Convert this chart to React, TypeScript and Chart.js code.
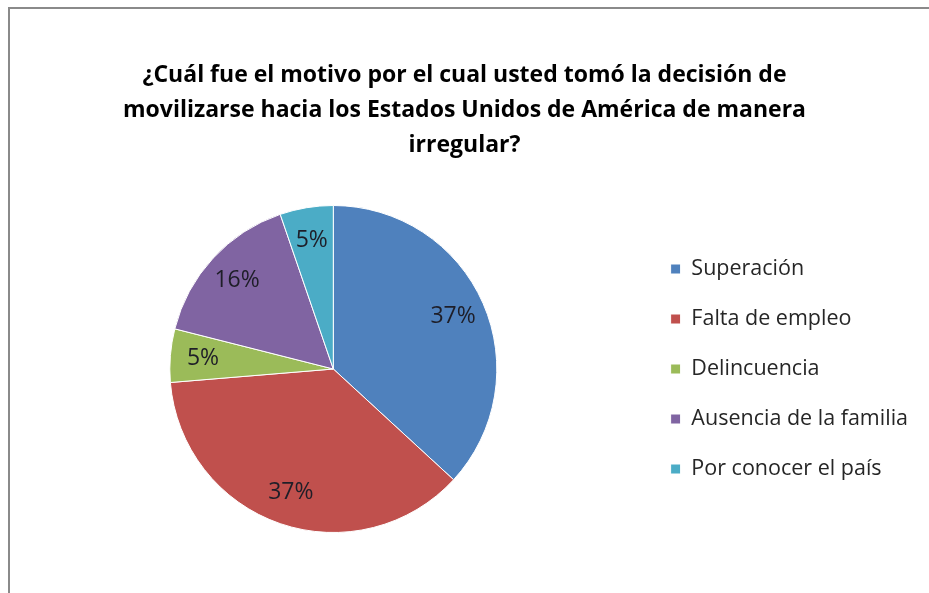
import React, { useEffect, useRef } from "react";
import { Chart, registerables } from "chart.js";

Chart.register(...registerables);

const titleLines = [
  "¿Cuál fue el motivo por el cual usted tomó la decisión de",
  "movilizarse hacia los Estados Unidos de América de manera",
  "irregular?",
];
const categories = [
  "Superación",
  "Falta de empleo",
  "Delincuencia",
  "Ausencia de la familia",
  "Por conocer el país",
];
const responses = [7, 7, 1, 3, 1];
const sliceColors = ["#4F81BD", "#C0504D", "#9BBB59", "#8064A2", "#4BACC6"];

const FONT = "'Open Sans', sans-serif";

const pctLabels = {
  id: "pctLabels",
  afterDatasetsDraw(chart: any) {
    const { ctx } = chart;
    const meta = chart.getDatasetMeta(0);
    const data = chart.data.datasets[0].data as number[];
    const total = data.reduce((a, b) => a + b, 0);
    ctx.save();
    ctx.font = `23px ${FONT}`;
    ctx.fillStyle = "#1e1e28";
    ctx.textAlign = "center";
    ctx.textBaseline = "middle";
    meta.data.forEach((arc: any, i: number) => {
      const p = arc.getProps(["x", "y", "startAngle", "endAngle", "outerRadius"], true);
      const mid = (p.startAngle + p.endAngle) / 2;
      const r = p.outerRadius * 0.8;
      const txt = Math.round((data[i] / total) * 100) + "%";
      ctx.fillText(txt, p.x + Math.cos(mid) * r, p.y + Math.sin(mid) * r);
    });
    ctx.restore();
  },
};

// keep the title centred on the whole frame, independent of the legend column
const titleSpan = {
  id: "titleSpan",
  afterLayout(chart: any) {
    const t = chart.titleBlock;
    if (t) {
      t.left = 0;
      t.right = chart.width;
    }
  },
};

export default function App() {
  const ref = useRef<HTMLCanvasElement>(null);
  useEffect(() => {
    if (!ref.current) return;
    const chart = new Chart(ref.current, {
      type: "pie",
      data: {
        labels: categories,
        datasets: [
          {
            data: responses,
            backgroundColor: sliceColors,
            borderColor: "#ffffff",
            borderWidth: 1,
          },
        ],
      },
      options: {
        animation: false,
        responsive: true,
        maintainAspectRatio: false,
        layout: { padding: { left: 24.5, right: 11, top: 0, bottom: 60 } },
        plugins: {
          title: {
            display: true,
            text: titleLines,
            color: "#000000",
            font: { family: FONT, size: 23, weight: "bold", lineHeight: 35 / 23 },
            padding: { top: 58, bottom: 42 },
          },
          legend: {
            display: true,
            position: "right",
            fullSize: false,
            labels: {
              boxWidth: 10,
              boxHeight: 10,
              padding: 28.5,
              color: "#262626",
              font: { family: FONT, size: 21.5 },
            },
          },
          tooltip: { enabled: false },
        },
      },
      plugins: [pctLabels, titleSpan],
    });
    return () => chart.destroy();
  }, []);
  return (
    <div style={{ position: "absolute", left: 0, top: 0, width: 929, height: 593, overflow: "hidden", background: "#fff" }}>
      <div style={{ position: "absolute", left: 8, top: 7, width: 2, height: 600, background: "#8a8a8a" }} />
      <div style={{ position: "absolute", left: 8, top: 7, width: 921, height: 2, background: "#8a8a8a" }} />
      <div style={{ position: "absolute", left: 0, top: 0, width: 929, height: 593 }}>
        <canvas ref={ref} />
      </div>
    </div>
  );
}
